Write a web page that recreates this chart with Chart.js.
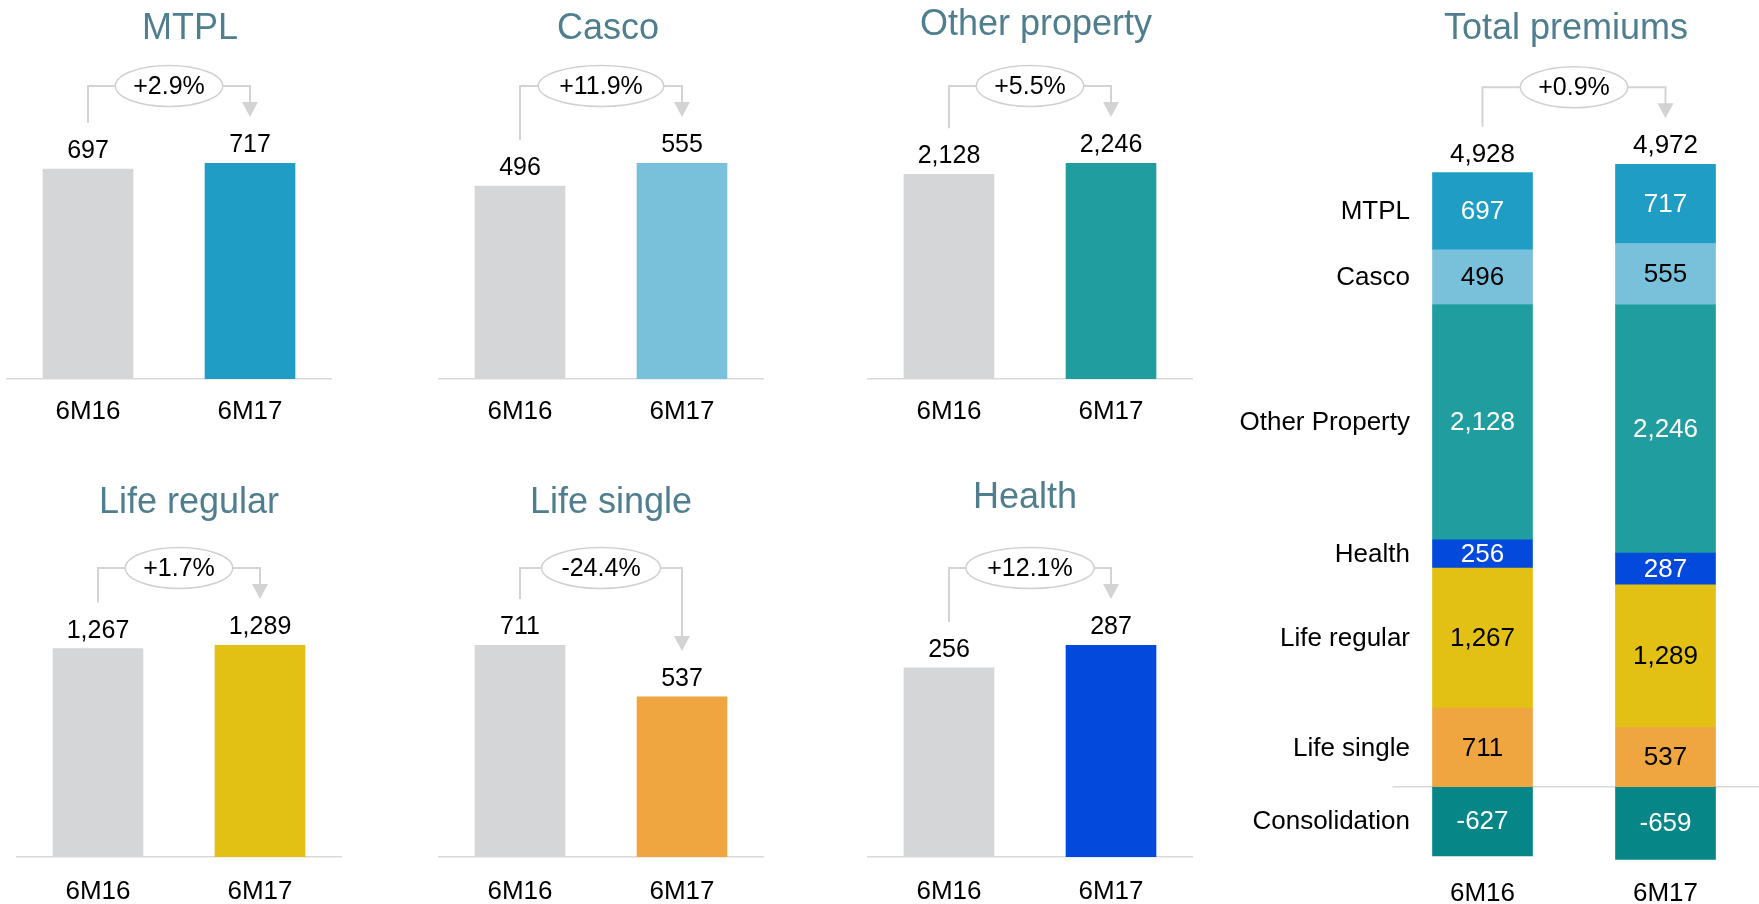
<!DOCTYPE html>
<html lang="en">
<head>
  <meta charset="UTF-8" />
  <title>Gross written premiums 6M16 vs 6M17</title>
  <script src="https://cdn.jsdelivr.net/npm/chart.js"></script>
  <style>
    * { margin: 0; padding: 0; box-sizing: border-box; }
    body {
      width: 1759px; height: 904px;
      overflow: hidden;
      background: #fff;
      position: relative;
      font-family: 'Liberation Sans', Arial, sans-serif;
    }
    canvas { position: absolute; }
  </style>
</head>
<body>
<canvas id="cMtpl"></canvas>
<canvas id="cCasco"></canvas>
<canvas id="cOther"></canvas>
<canvas id="cLifeReg"></canvas>
<canvas id="cLifeSingle"></canvas>
<canvas id="cHealth"></canvas>
<canvas id="cTotal"></canvas>

<script>
// data (RUB m)
const periods = ['6M16', '6M17'];
const mtpl = [697, 717];
const casco = [496, 555];
const otherProperty = [2128, 2246];
const health = [256, 287];
const lifeRegular = [1267, 1289];
const lifeSingle = [711, 537];
const consolidation = [-627, -659];
const growthLabels = ['+2.9%', '+11.9%', '+5.5%', '+1.7%', '-24.4%', '+12.1%', '+0.9%'];

const FONT = "'Liberation Sans', Arial, sans-serif";
const GRAY = '#d5d6d8';
const TITLE = '#4f7e8e';
const LINE = '#d3d3d3';
const AXIS = '#d9d9d9';

Chart.defaults.font.family = FONT;
Chart.defaults.color = '#000';

function fmt(v) { return v.toLocaleString('en-US'); }

function drawBracket(ctx, x1, y1, x2, y2, yTop, label) {
  ctx.save();
  ctx.font = '25px ' + FONT;
  const rx = ctx.measureText(label).width * 0.75, ry = 20.5;
  const cx = (x1 + x2) / 2;
  ctx.strokeStyle = LINE;
  ctx.lineWidth = 2;
  ctx.beginPath();
  ctx.moveTo(x1, y1); ctx.lineTo(x1, yTop); ctx.lineTo(cx - rx, yTop);
  ctx.moveTo(cx + rx, yTop); ctx.lineTo(x2, yTop); ctx.lineTo(x2, y2 - 14);
  ctx.stroke();
  ctx.fillStyle = LINE;
  ctx.beginPath();
  ctx.moveTo(x2 - 8, y2 - 15); ctx.lineTo(x2 + 8, y2 - 15); ctx.lineTo(x2, y2);
  ctx.closePath(); ctx.fill();
  ctx.beginPath();
  ctx.ellipse(cx, yTop, rx, ry, 0, 0, Math.PI * 2);
  ctx.fillStyle = '#fff'; ctx.fill();
  ctx.lineWidth = 1.5; ctx.strokeStyle = '#d0d0d0'; ctx.stroke();
  ctx.fillStyle = '#000';
  ctx.textAlign = 'center'; ctx.textBaseline = 'middle';
  ctx.fillText(label, cx, yTop + 1);
  ctx.restore();
}

function drawTitle(ctx, text, x, y) {
  ctx.save();
  ctx.font = '36px ' + FONT;
  ctx.fillStyle = TITLE;
  ctx.textAlign = 'center';
  ctx.textBaseline = 'alphabetic';
  ctx.fillText(text, x, y);
  ctx.restore();
}

// ---- small panels ----
const CANVAS_H = 445, BASE_Y = 379, TICK_SIZE = 26;

const smallPanels = [
  { id: 'cMtpl', title: 'MTPL', data: mtpl, color: '#1f9dc5', growth: growthLabels[0],
    left: 0, top: 0, areaLeft: 7, padTop: 163, titleDx: 21, titleY: 39, tickPad: 17 },
  { id: 'cCasco', title: 'Casco', data: casco, color: '#79c1db', growth: growthLabels[1],
    left: 420, top: 0, areaLeft: 439, padTop: 163, titleDx: 7, titleY: 39, tickPad: 17 },
  { id: 'cOther', title: 'Other property', data: otherProperty, color: '#209d9f', growth: growthLabels[2],
    left: 850, top: 0, areaLeft: 868, padTop: 163, titleDx: 6, titleY: 35, tickPad: 17 },
  { id: 'cLifeReg', title: 'Life regular', data: lifeRegular, color: '#e3c014', growth: growthLabels[3],
    left: 0, top: 478, areaLeft: 17, padTop: 167, titleDx: 10, titleY: 35, tickPad: 19 },
  { id: 'cLifeSingle', title: 'Life single', data: lifeSingle, color: '#efa640', growth: growthLabels[4],
    left: 420, top: 478, areaLeft: 439, padTop: 167, titleDx: 10, titleY: 35, tickPad: 19 },
  { id: 'cHealth', title: 'Health', data: health, color: '#0349dc', growth: growthLabels[5],
    left: 850, top: 478, areaLeft: 868, padTop: 167, titleDx: -5, titleY: 30, tickPad: 19 }
];

function smallPanel(p) {
  const el = document.getElementById(p.id);
  const w = 400;
  el.width = w; el.height = CANVAS_H;
  el.style.left = p.left + 'px'; el.style.top = p.top + 'px';
  const padL = p.areaLeft - p.left;
  const axisH = TICK_SIZE * 1.2 + p.tickPad * 2;

  const deco = {
    id: 'deco',
    afterDraw(chart) {
      const { ctx, chartArea } = chart;
      const bars = chart.getDatasetMeta(0).data;
      drawTitle(ctx, p.title, (chartArea.left + chartArea.right) / 2 + p.titleDx, p.titleY);
      ctx.save();
      ctx.font = '25px ' + FONT;
      ctx.fillStyle = '#000';
      ctx.textAlign = 'center';
      bars.forEach((b, i) => ctx.fillText(fmt(p.data[i]), b.x, b.y - 11));
      ctx.restore();
      drawBracket(ctx, bars[0].x, bars[0].y - 46, bars[1].x, bars[1].y - 46,
        Math.min(bars[0].y, bars[1].y) - 77, p.growth);
    }
  };

  new Chart(el, {
    type: 'bar',
    data: {
      labels: periods,
      datasets: [{
        data: p.data,
        backgroundColor: [GRAY, p.color],
        barThickness: 90
      }]
    },
    options: {
      responsive: false,
      animation: false,
      layout: { padding: { left: padL, right: w - padL - 324, top: p.padTop, bottom: CANVAS_H - BASE_Y - axisH } },
      plugins: { legend: { display: false }, tooltip: { enabled: false } },
      scales: {
        x: {
          grid: { display: false, drawTicks: false },
          border: { display: true, color: AXIS, width: 1.5 },
          ticks: { font: { size: TICK_SIZE }, color: '#000', padding: p.tickPad, maxRotation: 0 }
        },
        y: { display: false, min: 0, max: Math.max(...p.data) }
      }
    },
    plugins: [deco]
  });
}

smallPanels.forEach(smallPanel);

// ---- total premiums (stacked) ----
const stackSeries = [
  { label: 'Life single', data: lifeSingle, color: '#efa640', text: '#000' },
  { label: 'Life regular', data: lifeRegular, color: '#e3c014', text: '#000' },
  { label: 'Health', data: health, color: '#0349dc', text: '#fff' },
  { label: 'Other Property', data: otherProperty, color: '#209d9f', text: '#fff' },
  { label: 'Casco', data: casco, color: '#79c1db', text: '#000' },
  { label: 'MTPL', data: mtpl, color: '#1f9dc5', text: '#fff' },
  { label: 'Consolidation', data: consolidation, color: '#078688', text: '#fff' }
];

(function totalPanel() {
  const el = document.getElementById('cTotal');
  const w = 559, h = 920, padL = 191, areaW = 366, padTop = 145.6;
  const tickPad = 14, tickSize = 26;
  el.width = w; el.height = h;
  el.style.left = '1200px'; el.style.top = '0px';
  const axisH = tickSize * 1.2 + tickPad * 2;

  const deco = {
    id: 'totalDeco',
    beforeDatasetsDraw(chart) {
      const { ctx, chartArea, scales } = chart;
      const y0 = scales.y.getPixelForValue(0);
      ctx.save();
      ctx.strokeStyle = AXIS; ctx.lineWidth = 1.5;
      ctx.beginPath(); ctx.moveTo(chartArea.left + 1.5, y0); ctx.lineTo(w, y0); ctx.stroke();
      ctx.restore();
    },
    afterDraw(chart) {
      const { ctx, chartArea, scales } = chart;
      drawTitle(ctx, 'Total premiums', (chartArea.left + chartArea.right) / 2 - 8, 39);
      ctx.save();
      ctx.textBaseline = 'middle';
      stackSeries.forEach((s, di) => {
        const bars = chart.getDatasetMeta(di).data;
        // row label next to first bar
        ctx.textAlign = 'right';
        ctx.fillStyle = '#000';
        ctx.font = '26px ' + FONT;
        ctx.fillText(s.label, chartArea.left + 19, (bars[0].y + bars[0].base) / 2 + 1);
        ctx.textAlign = 'center';
        ctx.fillStyle = s.text;
        bars.forEach((b, i) => ctx.fillText(fmt(s.data[i]), b.x, (b.y + b.base) / 2 + 1));
      });
      // totals above bars
      const tops = periods.map((_, i) => {
        const pos = stackSeries.reduce((a, s) => a + Math.max(s.data[i], 0), 0);
        return scales.y.getPixelForValue(pos);
      });
      const xs = chart.getDatasetMeta(0).data.map(b => b.x);
      ctx.textBaseline = 'alphabetic';
      ctx.fillStyle = '#000';
      periods.forEach((_, i) => {
        const net = stackSeries.reduce((a, s) => a + s.data[i], 0);
        ctx.fillText(fmt(net), xs[i], tops[i] - 11);
      });
      ctx.restore();
      drawBracket(ctx, xs[0], tops[0] - 46, xs[1], tops[1] - 46, Math.min(tops[0], tops[1]) - 77, growthLabels[6]);
    }
  };

  new Chart(el, {
    type: 'bar',
    data: {
      labels: periods,
      datasets: stackSeries.map(s => ({
        label: s.label,
        data: s.data,
        backgroundColor: s.color,
        barThickness: 100
      }))
    },
    options: {
      responsive: false,
      animation: false,
      layout: { padding: { left: padL, right: w - padL - areaW, top: padTop, bottom: h - 864 - axisH } },
      plugins: { legend: { display: false }, tooltip: { enabled: false } },
      scales: {
        x: {
          stacked: true,
          grid: { display: false, drawTicks: false },
          border: { display: false },
          ticks: { font: { size: tickSize }, color: '#000', padding: tickPad, maxRotation: 0 }
        },
        y: { stacked: true, display: false, min: -700, max: 5800 }
      }
    },
    plugins: [deco]
  });
})();
</script>
</body>
</html>
